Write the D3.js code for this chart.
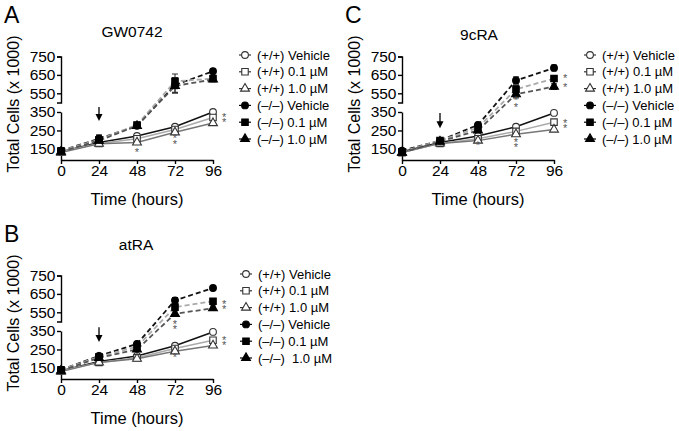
<!DOCTYPE html>
<html>
<head>
<meta charset="utf-8">
<script src="https://cdn.jsdelivr.net/npm/d3@7"></script>
<style>
  body { margin: 0; background: #fff; }
  svg { font-family: "Liberation Sans", Arial, Helvetica, sans-serif; }
  .axis path, .axis line { stroke: #000; stroke-width: 1.4; }
  .axis text { font-size: 15.5px; fill: #000; }
</style>
</head>
<body>
<svg id="chart" width="679" height="431"></svg>
<script>
'use strict';

// time points and tick labels
var hours = [0, 24, 48, 72, 96];
var yTicksLow = [150, 250, 350];
var yTicksHigh = [550, 650, 750];

var seriesNames = ['(+/+) Vehicle', '(+/+) 0.1 \u00b5M', '(+/+) 1.0 \u00b5M',
                   '(\u2013/\u2013) Vehicle', '(\u2013/\u2013) 0.1 \u00b5M', '(\u2013/\u2013) 1.0 \u00b5M'];
// panel B has a wider gap in its last label
var seriesNamesB = seriesNames.slice(0, 5).concat(['(\u2013/\u2013)\u00a0 1.0 \u00b5M']);

// GW0742
var gwPosVeh = [135, 185, 220, 270, 350];
var gwPos01  = [135, 180, 205, 255, 320];
var gwPos10  = [130, 178, 185, 240, 290];
var gwNegVeh = [140, 205, 275, 595, 670];
var gwNeg01  = [140, 200, 280, 615, 630];
var gwNeg10  = [135, 195, 275, 590, 625];
var gwNegErr = [8, 22, 10, 40, 12];
var gwStars  = [[48, 133], [72, 209], [72, 176], [103, 323], [103, 296]];
var gwArrow  = [24, 377, 301];

// atRA
var atPosVeh = [135, 185, 215, 270, 345];
var atPos01  = [135, 180, 205, 255, 300];
var atPos10  = [130, 180, 200, 240, 272];
var atNegVeh = [140, 215, 280, 615, 682];
var atNeg01  = [140, 210, 265, 578, 610];
var atNeg10  = [135, 205, 250, 542, 572];
var atNegErr = [8, 12, 10, 15, 12];
var atStars  = [[72, 488], [72, 461], [72, 209], [103, 597], [103, 570], [103, 300], [103, 272]];
var atArrow  = [24, 370, 290];

// 9cRA
var ncPosVeh = [135, 185, 220, 270, 345];
var ncPos01  = [130, 180, 205, 245, 295];
var ncPos10  = [130, 180, 195, 230, 255];
var ncNegVeh = [140, 195, 280, 620, 688];
var ncNeg01  = [135, 195, 265, 572, 630];
var ncNeg10  = [130, 190, 250, 545, 586];
var ncNegErr = [8, 10, 10, 20, 15];
var ncStars  = [[48, 170], [72, 513], [72, 477], [72, 189], [72, 161], [103, 633], [103, 584], [103, 290], [103, 263]];
var ncArrow  = [24, 345, 262];

var styles = [
  {shape: d3.symbolCircle,   fill: '#fff', line: '#111', dash: null},
  {shape: d3.symbolSquare,   fill: '#fff', line: '#aaa', dash: null},
  {shape: d3.symbolTriangle, fill: '#fff', line: '#777', dash: null},
  {shape: d3.symbolCircle,   fill: '#000', line: '#111', dash: '5,3'},
  {shape: d3.symbolSquare,   fill: '#000', line: '#aaa', dash: '5,3'},
  {shape: d3.symbolTriangle, fill: '#000', line: '#555', dash: '5,3'}
];
var symSize = {circle: 36, square: 42, triangle: 34};

var panels = [
  {letter: 'A', ox: 0, oy: 0, title: 'GW0742', titleX: 132, titleY: 37, legX: 245, names: seriesNames,
   series: [gwPosVeh, gwPos01, gwPos10, gwNegVeh, gwNeg01, gwNeg10], err: gwNegErr, stars: gwStars, arrow: gwArrow},
  {letter: 'B', ox: 0, oy: 219, title: 'atRA', titleX: 136, titleY: 31, legX: 246, names: seriesNamesB,
   series: [atPosVeh, atPos01, atPos10, atNegVeh, atNeg01, atNeg10], err: atNegErr, stars: atStars, arrow: atArrow},
  {letter: 'C', ox: 341, oy: 0, title: '9cRA', titleX: 138, titleY: 40, legX: 249, names: seriesNames,
   series: [ncPosVeh, ncPos01, ncPos10, ncNegVeh, ncNeg01, ncNeg10], err: ncNegErr, stars: ncStars, arrow: ncArrow}
];

var svg = d3.select('#chart');

var x = d3.scaleLinear().domain([0, 96]).range([61, 213]);
var yLow = d3.scaleLinear().domain([90, 350]).range([160, 112]);
var yHigh = d3.scaleLinear().domain([500, 750]).range([102.5, 56.5]);
function y(v) { return v >= 450 ? yHigh(v) : yLow(v); }

function symPath(st) {
  var s = st.shape === d3.symbolCircle ? symSize.circle : (st.shape === d3.symbolSquare ? symSize.square : symSize.triangle);
  return d3.symbol().type(st.shape).size(s)();
}

panels.forEach(function(p){
  var g = svg.append('g').attr('transform', 'translate(' + p.ox + ',' + p.oy + ')');

  g.append('text').attr('x', 4).attr('y', 23)
    .style('font-size', '23px').text(p.letter);

  g.append('text').attr('x', p.titleX).attr('y', p.titleY)
    .attr('text-anchor', 'middle').style('font-size', '15.5px').text(p.title);

  // axes
  g.append('g').attr('class', 'axis').attr('transform', 'translate(61,0)')
    .call(d3.axisLeft(yHigh).tickValues(yTicksHigh).tickSize(4).tickSizeOuter(4).tickPadding(1.5));
  g.append('g').attr('class', 'axis').attr('transform', 'translate(61,0)')
    .call(d3.axisLeft(yLow).tickValues(yTicksLow).tickSize(4).tickSizeOuter(0).tickPadding(1.5));
  g.append('g').attr('class', 'axis').attr('transform', 'translate(0,160)')
    .call(d3.axisBottom(x).tickValues(hours).tickSize(4).tickSizeOuter(0).tickPadding(1));
  g.selectAll('.axis .domain').attr('fill', 'none');

  g.append('text')
    .attr('transform', 'translate(19,' + 104 + ') rotate(-90)')
    .attr('text-anchor', 'middle').style('font-size', '16px')
    .text('Total Cells (x 1000)');
  g.append('text').attr('x', 137).attr('y', 205)
    .attr('text-anchor', 'middle').style('font-size', '16.5px')
    .text('Time (hours)');

  var line = d3.line().x(function(d, i){ return x(hours[i]); }).y(function(d){ return y(d); });

  // lines
  p.series.forEach(function(vals, k){
    g.append('path').datum(vals)
      .attr('d', line)
      .attr('fill', 'none')
      .attr('stroke', styles[k].line)
      .attr('stroke-width', k >= 3 ? 1.8 : 1.5)
      .attr('stroke-dasharray', styles[k].dash);
  });

  // error bars for knockout series
  p.series.slice(3).forEach(function(vals){
    vals.forEach(function(v, i){
      var e = p.err[i];
      var xc = x(hours[i]);
      g.append('path')
        .attr('d', 'M' + xc + ',' + y(v - e) + 'V' + y(v + e) +
                   'M' + (xc - 3) + ',' + y(v - e) + 'H' + (xc + 3) +
                   'M' + (xc - 3) + ',' + y(v + e) + 'H' + (xc + 3))
        .attr('stroke', '#333').attr('stroke-width', 1.1).attr('fill', 'none');
    });
  });

  // markers
  p.series.forEach(function(vals, k){
    var st = styles[k];
    g.selectAll(null).data(vals).enter().append('path')
      .attr('d', symPath(st))
      .attr('transform', function(d, i){ return 'translate(' + x(hours[i]) + ',' + y(d) + ')'; })
      .attr('fill', st.fill)
      .attr('stroke', k < 3 ? '#333' : '#000')
      .attr('stroke-width', 1.1);
  });

  // significance stars
  g.selectAll(null).data(p.stars).enter().append('text')
    .attr('x', function(d){ return x(d[0]); })
    .attr('y', function(d){ return y(d[1]) + 4; })
    .attr('text-anchor', 'middle')
    .style('font-size', '11px').attr('fill', '#555')
    .text('*');

  // treatment arrow
  var ax = x(p.arrow[0]), ay1 = y(p.arrow[1]), ay2 = y(p.arrow[2]);
  g.append('line').attr('x1', ax).attr('x2', ax).attr('y1', ay1).attr('y2', ay2 - 5)
    .attr('stroke', '#000').attr('stroke-width', 1.3);
  g.append('path')
    .attr('d', 'M' + (ax - 3.5) + ',' + (ay2 - 7) + 'L' + (ax + 3.5) + ',' + (ay2 - 7) + 'L' + ax + ',' + ay2 + 'Z')
    .attr('fill', '#000');

  // legend
  var leg = g.append('g').attr('transform', 'translate(' + p.legX + ',55)');
  p.names.forEach(function(name, k){
    var st = styles[k];
    var row = leg.append('g').attr('transform', 'translate(0,' + (k * 16.8) + ')');
    row.append('line').attr('x1', -6).attr('x2', 6)
      .attr('stroke', k < 3 ? '#333' : '#000').attr('stroke-width', 1.2);
    row.append('path').attr('d', symPath(st))
      .attr('fill', st.fill).attr('stroke', k < 3 ? '#333' : '#000').attr('stroke-width', 1.1);
    row.append('text').attr('x', 12).attr('dy', '0.35em')
      .style('font-size', '13px').text(name);
  });
});
</script>
</body>
</html>
